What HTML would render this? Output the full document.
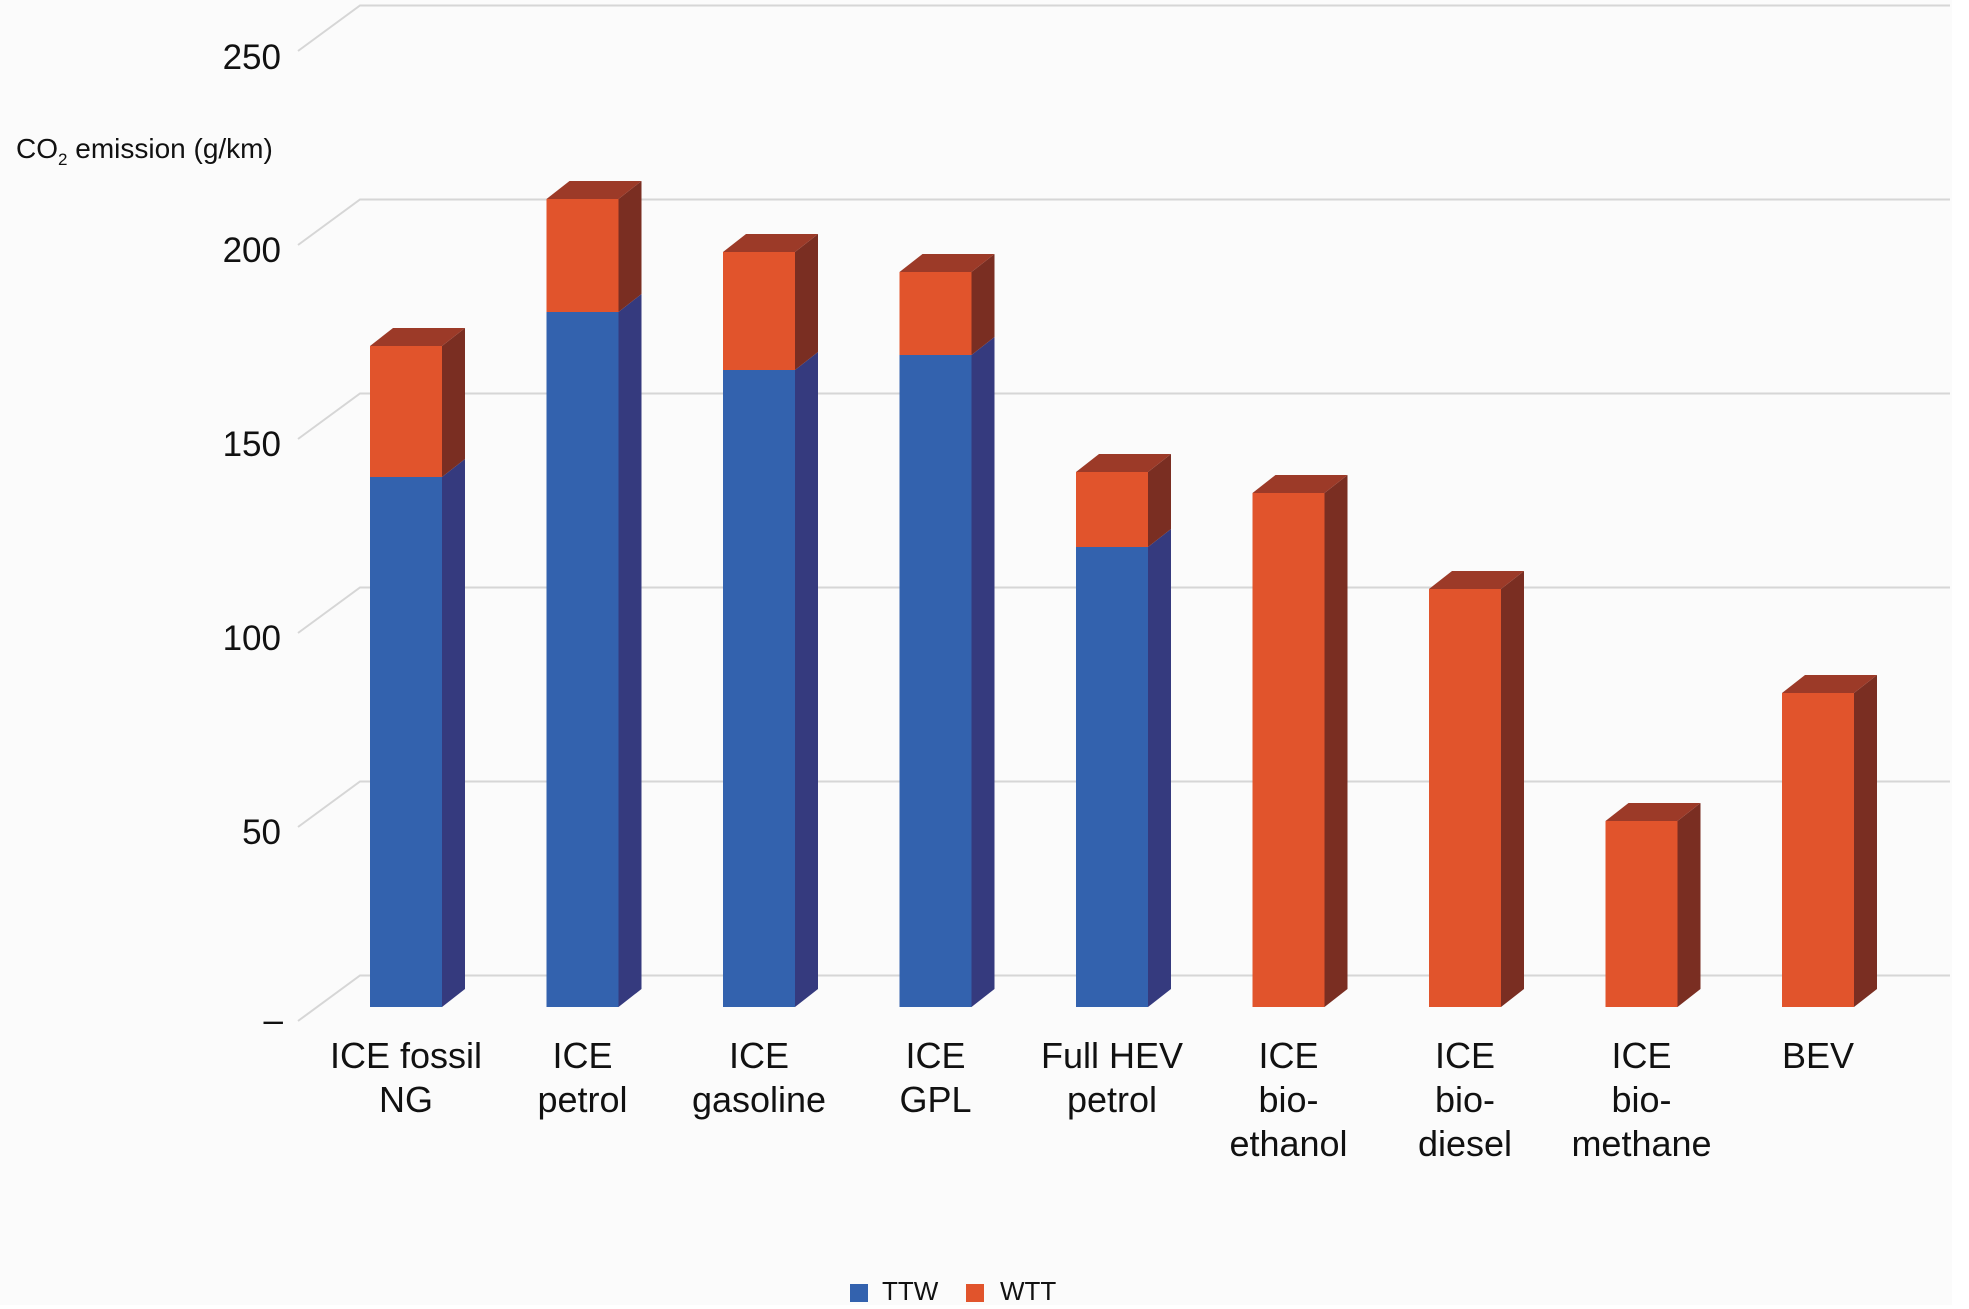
<!DOCTYPE html>
<html>
<head>
<meta charset="utf-8">
<style>
  html,body{margin:0;padding:0;background:#ffffff;}
  svg{display:block;}
  text{font-family:"Liberation Sans","DejaVu Sans",sans-serif;fill:#111;}
</style>
</head>
<body>
<svg width="1969" height="1309" viewBox="0 0 1969 1309" xmlns="http://www.w3.org/2000/svg">
  <rect x="0" y="0" width="1952" height="1305" fill="#fbfbfb"/>

  <!-- gridlines (back wall + diagonal) -->
  <g stroke="#d6d6d6" stroke-width="2" fill="none">
    <polyline points="298,51 360,5.5 1950,5.5"/>
    <polyline points="298,245 360,199.5 1950,199.5"/>
    <polyline points="298,439 360,393.5 1950,393.5"/>
    <polyline points="298,633 360,587.5 1950,587.5"/>
    <polyline points="298,827 360,781.5 1950,781.5"/>
    <polyline points="298,1021 360,975.5 1950,975.5"/>
  </g>

  <!-- y tick labels -->
  <g font-size="35" text-anchor="end">
    <text x="281" y="69">250</text>
    <text x="281" y="262">200</text>
    <text x="281" y="456">150</text>
    <text x="281" y="650">100</text>
    <text x="281" y="844">50</text>
    <text x="283" y="1032">–</text>
  </g>

  <!-- y axis title -->
  <text x="16" y="158" font-size="28">CO<tspan font-size="17" dy="7">2</tspan><tspan dy="-7"> emission (g/km)</tspan></text>

  <!-- Bars -->
  <g>
    <rect x="370" y="477" width="72" height="530" fill="#3362ae"/>
    <rect x="370" y="346" width="72" height="131" fill="#e1542c"/>
    <polygon points="442,477 465,459 465,989 442,1007" fill="#353a7e"/>
    <polygon points="442,346 465,328 465,459 442,477" fill="#7a2e22"/>
    <polygon points="370,346 393,328 465,328 442,346" fill="#9c3a28"/>
  </g>
  <g>
    <rect x="546.5" y="312" width="72" height="695" fill="#3362ae"/>
    <rect x="546.5" y="199" width="72" height="113" fill="#e1542c"/>
    <polygon points="618.5,312 641.5,294 641.5,989 618.5,1007" fill="#353a7e"/>
    <polygon points="618.5,199 641.5,181 641.5,294 618.5,312" fill="#7a2e22"/>
    <polygon points="546.5,199 569.5,181 641.5,181 618.5,199" fill="#9c3a28"/>
  </g>
  <g>
    <rect x="723" y="370" width="72" height="637" fill="#3362ae"/>
    <rect x="723" y="252" width="72" height="118" fill="#e1542c"/>
    <polygon points="795,370 818,352 818,989 795,1007" fill="#353a7e"/>
    <polygon points="795,252 818,234 818,352 795,370" fill="#7a2e22"/>
    <polygon points="723,252 746,234 818,234 795,252" fill="#9c3a28"/>
  </g>
  <g>
    <rect x="899.5" y="355" width="72" height="652" fill="#3362ae"/>
    <rect x="899.5" y="272" width="72" height="83" fill="#e1542c"/>
    <polygon points="971.5,355 994.5,337 994.5,989 971.5,1007" fill="#353a7e"/>
    <polygon points="971.5,272 994.5,254 994.5,337 971.5,355" fill="#7a2e22"/>
    <polygon points="899.5,272 922.5,254 994.5,254 971.5,272" fill="#9c3a28"/>
  </g>
  <g>
    <rect x="1076" y="547" width="72" height="460" fill="#3362ae"/>
    <rect x="1076" y="472" width="72" height="75" fill="#e1542c"/>
    <polygon points="1148,547 1171,529 1171,989 1148,1007" fill="#353a7e"/>
    <polygon points="1148,472 1171,454 1171,529 1148,547" fill="#7a2e22"/>
    <polygon points="1076,472 1099,454 1171,454 1148,472" fill="#9c3a28"/>
  </g>
  <g>
    <rect x="1252.5" y="493" width="72" height="514" fill="#e1542c"/>
    <polygon points="1324.5,493 1347.5,475 1347.5,989 1324.5,1007" fill="#7a2e22"/>
    <polygon points="1252.5,493 1275.5,475 1347.5,475 1324.5,493" fill="#9c3a28"/>
  </g>
  <g>
    <rect x="1429" y="589" width="72" height="418" fill="#e1542c"/>
    <polygon points="1501,589 1524,571 1524,989 1501,1007" fill="#7a2e22"/>
    <polygon points="1429,589 1452,571 1524,571 1501,589" fill="#9c3a28"/>
  </g>
  <g>
    <rect x="1605.5" y="821" width="72" height="186" fill="#e1542c"/>
    <polygon points="1677.5,821 1700.5,803 1700.5,989 1677.5,1007" fill="#7a2e22"/>
    <polygon points="1605.5,821 1628.5,803 1700.5,803 1677.5,821" fill="#9c3a28"/>
  </g>
  <g>
    <rect x="1782" y="693" width="72" height="314" fill="#e1542c"/>
    <polygon points="1854,693 1877,675 1877,989 1854,1007" fill="#7a2e22"/>
    <polygon points="1782,693 1805,675 1877,675 1854,693" fill="#9c3a28"/>
  </g>

  <!-- category labels -->
  <g font-size="36" text-anchor="middle">
    <text x="406" y="1068">ICE fossil</text>
    <text x="406" y="1112">NG</text>

    <text x="582.5" y="1068">ICE</text>
    <text x="582.5" y="1112">petrol</text>

    <text x="759" y="1068">ICE</text>
    <text x="759" y="1112">gasoline</text>

    <text x="935.5" y="1068">ICE</text>
    <text x="935.5" y="1112">GPL</text>

    <text x="1112" y="1068">Full HEV</text>
    <text x="1112" y="1112">petrol</text>

    <text x="1288.5" y="1068">ICE</text>
    <text x="1288.5" y="1112">bio-</text>
    <text x="1288.5" y="1156">ethanol</text>

    <text x="1465" y="1068">ICE</text>
    <text x="1465" y="1112">bio-</text>
    <text x="1465" y="1156">diesel</text>

    <text x="1641.5" y="1068">ICE</text>
    <text x="1641.5" y="1112">bio-</text>
    <text x="1641.5" y="1156">methane</text>

    <text x="1818" y="1068">BEV</text>
  </g>

  <!-- legend -->
  <rect x="850" y="1284" width="18" height="18" fill="#3362ae"/>
  <text x="882" y="1300" font-size="26">TTW</text>
  <rect x="966" y="1284" width="18" height="18" fill="#e1542c"/>
  <text x="1000" y="1300" font-size="26">WTT</text>
</svg>
</body>
</html>
